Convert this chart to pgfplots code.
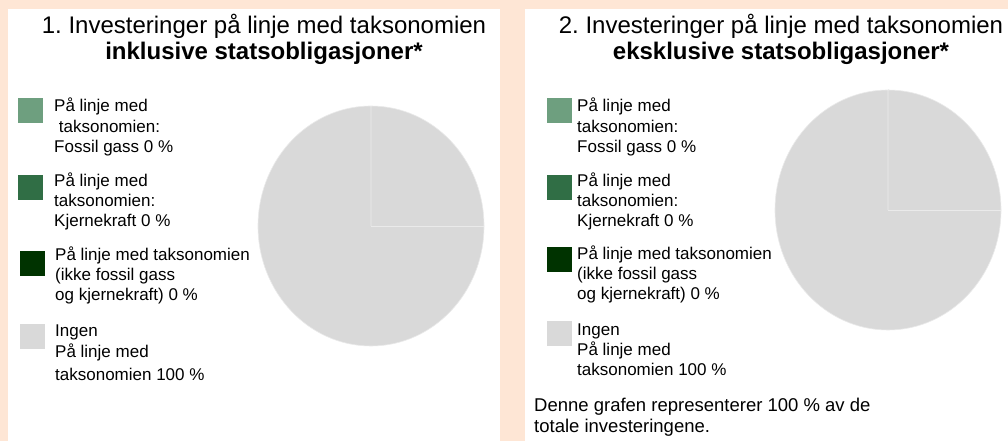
\documentclass[border=0pt]{standalone}
\usepackage{pgfplots}
\usepackage{pgfplotstable}
\pgfplotsset{compat=1.18}
\usepackage{fontspec}
\setmainfont{Liberation Sans}
\frenchspacing

\definecolor{peach}{HTML}{FEE6D5}
\definecolor{pie0}{HTML}{6E9F7F}
\definecolor{pie1}{HTML}{306E45}
\definecolor{pie2}{HTML}{003300}
\definecolor{pie3}{HTML}{D9D9D9}
\definecolor{pieedge}{HTML}{EAEAEA}

% Panel 1: inklusive statsobligasjoner (shares in %)
\pgfplotstableread{
share
0
0
0
100
}\pieA
% Panel 2: eksklusive statsobligasjoner (shares in %)
\pgfplotstableread{
share
0
0
0
100
}\pieB

\pgfplotstablecreatecol[create col/expr accum={\pgfmathaccuma - 3.6*\thisrow{share}}{90}]{endang}\pieA
\pgfplotstablecreatecol[create col/expr accum={\pgfmathaccuma - 3.6*\thisrow{share}}{90}]{endang}\pieB

\newcommand{\drawpie}[1]{%
  \pgfplotsinvokeforeach{0,...,3}{%
    \pgfplotstablegetelem{##1}{share}\of#1\let\sh\pgfplotsretval
    \pgfplotstablegetelem{##1}{endang}\of#1\let\ea\pgfplotsretval
    \pgfmathsetmacro\sa{\ea+3.6*\sh}%
    \edef\temp{\noexpand\fill[fill=pie##1, draw=pieedge, line width=0.6pt]
      (axis cs:0,0) -- (axis cs:{cos(\sa)},{sin(\sa)})
      arc[start angle=\sa, end angle=\ea, x radius=113pt, y radius=120pt] -- cycle;}%
    \temp
  }%
  \draw[pieedge, line width=0.6pt] (axis cs:0,0) -- (axis cs:1,0);
}

\newcommand{\legsq}[3]{\fill[#3] (#1,#2) rectangle ++(25,25);}

\begin{document}
\begin{tikzpicture}[x=1pt,y=-1pt]
\fill[peach] (0,0) rectangle (1008,441);
\fill[white] (8,9) rectangle (500,441);
\fill[white] (525,9) rectangle (1008,441);

% ---------- Panel 1 ----------
\node[anchor=base, inner sep=0pt, font=\fontsize{24}{28}\selectfont] at (264,34) {1. Investeringer på linje med taksonomien};
\node[anchor=base, inner sep=0pt, font=\fontsize{24}{28}\selectfont\bfseries] at (264,60) {inklusive statsobligasjoner*};

\begin{axis}[at={(371pt,-226pt)}, anchor=center, scale only axis, width=226pt, height=240pt,
  xmin=-1, xmax=1, ymin=-1, ymax=1, hide axis, clip=false]
\drawpie{\pieA}
\end{axis}

\begin{scope}[every node/.style={anchor=base west, inner sep=0pt, font=\fontsize{17}{20}\selectfont}]
\legsq{18}{98}{pie0}
\node at (54,112) {På linje med};
\node at (54,132) {\ taksonomien:};
\node at (54,152) {Fossil gass 0 \%};
\legsq{18}{175}{pie1}
\node at (54,186) {På linje med};
\node at (54,206) {taksonomien:};
\node at (54,226) {Kjernekraft 0 \%};
\legsq{20}{251}{pie2}
\node at (55,260) {På linje med taksonomien};
\node at (55,280) {(ikke fossil gass};
\node at (55,300) {og kjernekraft) 0 \%};
\legsq{20}{324}{pie3}
\node at (55,336) {Ingen};
\node at (55,357) {På linje med};
\node at (55,380) {taksonomien 100 \%};
\end{scope}

% ---------- Panel 2 ----------
\node[anchor=base, inner sep=0pt, font=\fontsize{24}{28}\selectfont] at (781,34) {2. Investeringer på linje med taksonomien};
\node[anchor=base, inner sep=0pt, font=\fontsize{24}{28}\selectfont\bfseries] at (781,60) {eksklusive statsobligasjoner*};

\begin{axis}[at={(888pt,-210pt)}, anchor=center, scale only axis, width=226pt, height=240pt,
  xmin=-1, xmax=1, ymin=-1, ymax=1, hide axis, clip=false]
\drawpie{\pieB}
\end{axis}

\begin{scope}[every node/.style={anchor=base west, inner sep=0pt, font=\fontsize{17}{20}\selectfont}]
\legsq{547}{98}{pie0}
\node at (577,112) {På linje med};
\node at (577,132) {taksonomien:};
\node at (577,152) {Fossil gass 0 \%};
\legsq{547}{175}{pie1}
\node at (577,186) {På linje med};
\node at (577,206) {taksonomien:};
\node at (577,226) {Kjernekraft 0 \%};
\legsq{547}{247}{pie2}
\node at (577,259) {På linje med taksonomien};
\node at (577,279) {(ikke fossil gass};
\node at (577,299) {og kjernekraft) 0 \%};
\legsq{547}{321}{pie3}
\node at (577,335) {Ingen};
\node at (577,355) {På linje med};
\node at (577,375) {taksonomien 100 \%};
\node[font=\fontsize{18.5}{21}\selectfont] at (534,411) {Denne grafen representerer 100 \% av de};
\node[font=\fontsize{18.5}{21}\selectfont] at (534,432) {totale investeringene.};
\end{scope}
\end{tikzpicture}
\end{document}
